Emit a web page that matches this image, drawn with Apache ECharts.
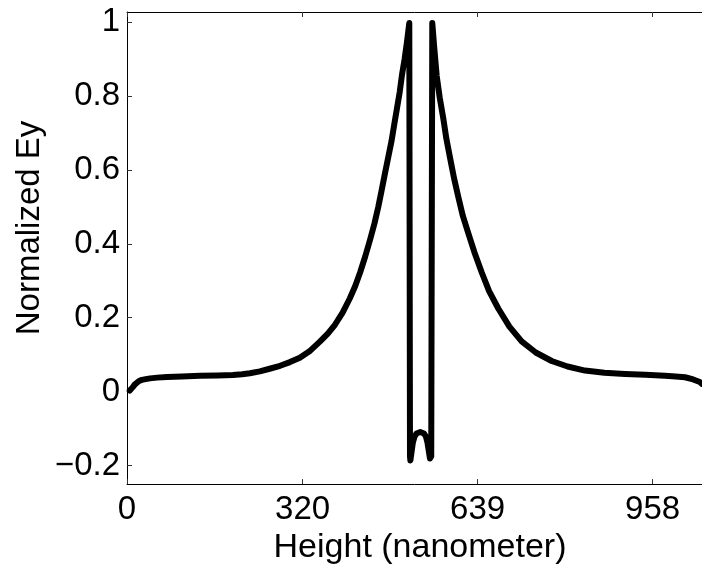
<!DOCTYPE html>
<html>
<head>
<meta charset="utf-8">
<script src="https://cdn.jsdelivr.net/npm/echarts@6/dist/echarts.min.js"></script>
<style>
html,body{margin:0;padding:0;background:#fff;}
#chart{width:702px;height:570px;}
</style>
</head>
<body>
<div id="chart"></div>
<script>
// Height (nanometer)
const heightNm = [5, 8, 11, 14, 18, 22, 27, 34, 42, 55, 73, 100, 133, 165, 193, 210, 224, 242, 260, 279, 297, 315, 334, 352, 366, 379, 393, 406, 416, 425, 434, 443, 451, 458, 464, 470, 476, 482, 487, 492, 497, 501, 506, 510, 514.5,
  515.8, 516.5, 521, 524, 527.6, 534.5, 541.3, 545, 547.7, 552.2, 553.5, 554.5,
  556.4, 560, 564.4, 570, 576.5, 582, 588.7, 596, 603.8, 612, 622, 633, 646.4, 660, 676.7, 697, 719.3, 745, 774, 803, 834.7, 870, 907.6, 945, 980.5, 1000, 1017, 1032, 1044, 1048];
// Normalized Ey
const normalizedEy = [0.003, 0.008, 0.013, 0.019, 0.024, 0.029, 0.032, 0.034, 0.036, 0.038, 0.040, 0.041, 0.043, 0.044, 0.045, 0.047, 0.050, 0.055, 0.062, 0.070, 0.080, 0.092, 0.111, 0.136, 0.157, 0.181, 0.214, 0.252, 0.286, 0.323, 0.365, 0.411, 0.455, 0.500, 0.544, 0.589, 0.633, 0.677, 0.722, 0.766, 0.810, 0.855, 0.900, 0.943, 0.997,
  -0.175, -0.186, -0.138, -0.122, -0.113, -0.109, -0.113, -0.122, -0.138, -0.181, -0.186, -0.175,
  0.997, 0.930, 0.855, 0.795, 0.739, 0.685, 0.633, 0.578, 0.527, 0.476, 0.429, 0.378, 0.323, 0.272, 0.225, 0.176, 0.136, 0.106, 0.083, 0.068, 0.057, 0.051, 0.048, 0.046, 0.043, 0.041, 0.039, 0.033, 0.026, 0.021];
const xTicks = [0, 320, 639, 958];
const yTicks = [-0.2, 0, 0.2, 0.4, 0.6, 0.8, 1];
const xRange = [0, 1048];
const yRange = [-0.25, 1.027];

const FONT = 'Liberation Sans, Arial, sans-serif';
const chart = echarts.init(document.getElementById('chart'), null, {renderer: 'canvas'});
const data = heightNm.map((x, i) => [x, normalizedEy[i]]);
const fmtY = v => String(v).replace('-', '\u2212');

chart.setOption({
  animation: false,
  backgroundColor: '#ffffff',
  grid: {left: 127, top: 12, right: 0, bottom: 78, containLabel: false},
  xAxis: [{
    type: 'value', min: xRange[0], max: xRange[1], position: 'bottom',
    name: 'Height (nanometer)', nameLocation: 'middle', nameGap: 37,
    nameTextStyle: {fontFamily: FONT, fontSize: 34, color: '#000', padding: [0, 0, 0, 11]},
    axisLine: {show: true, onZero: false, lineStyle: {color: '#000', width: 1}},
    axisTick: {show: true, inside: true, length: 5, customValues: xTicks, lineStyle: {color: '#333'}},
    axisLabel: {show: true, customValues: xTicks, margin: 9, fontFamily: FONT, fontSize: 33, color: '#000'},
    splitLine: {show: false}
  }, {
    type: 'value', min: xRange[0], max: xRange[1], position: 'top',
    axisLine: {show: true, onZero: false, lineStyle: {color: '#000', width: 1}},
    axisTick: {show: true, inside: true, length: 5, customValues: xTicks, lineStyle: {color: '#333'}},
    axisLabel: {show: false},
    splitLine: {show: false}
  }],
  yAxis: [{
    type: 'value', min: yRange[0], max: yRange[1],
    axisLine: {show: true, onZero: false, lineStyle: {color: '#000', width: 1}},
    axisTick: {show: true, inside: true, length: 5, customValues: yTicks, lineStyle: {color: '#333'}},
    axisLabel: {show: true, customValues: yTicks, margin: 7, fontFamily: FONT, fontSize: 33, color: '#000', formatter: fmtY},
    splitLine: {show: false}
  }],
  graphic: [{
    type: 'text', x: 30, y: 228, rotation: Math.PI / 2,
    style: {text: 'Normalized Ey', fontFamily: FONT, fontSize: 33, fill: '#000', align: 'center', verticalAlign: 'middle'}
  }],
  series: [{
    type: 'line', xAxisIndex: 0, yAxisIndex: 0, data: data,
    showSymbol: false, smooth: false, clip: true,
    lineStyle: {color: '#000', width: 6, cap: 'round', join: 'round'}
  }]
});
</script>
</body>
</html>
